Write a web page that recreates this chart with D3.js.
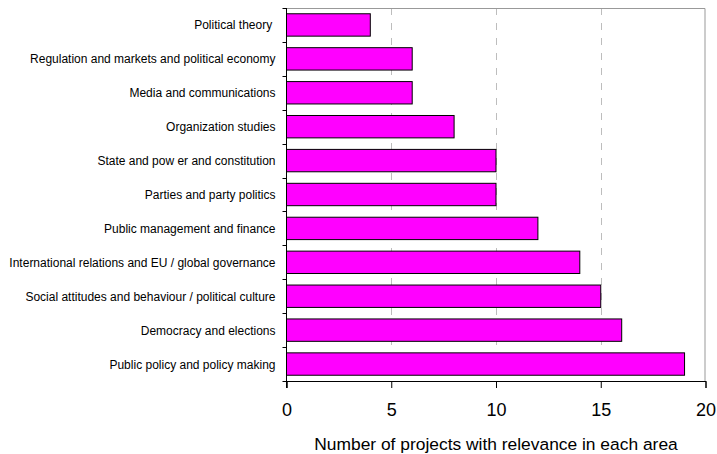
<!DOCTYPE html>
<html>
<head>
<meta charset="utf-8">
<script src="https://cdn.jsdelivr.net/npm/d3@7/dist/d3.min.js"></script>
<style>
  html, body { margin: 0; padding: 0; background: #fff; }
  svg { display: block; }
  text { font-family: "Liberation Sans", Arial, sans-serif; fill: #000; }
</style>
</head>
<body>
<svg id="chart" width="717" height="454"></svg>
<script>
// Research areas, top to bottom, and project counts per area
const categories = [
  "Political theory ",
  "Regulation and markets and political economy",
  "Media and communications",
  "Organization studies",
  "State and pow er and constitution",
  "Parties and party politics",
  "Public management and finance",
  "International relations and EU / global governance",
  "Social attitudes and behaviour / political culture",
  "Democracy and elections",
  "Public policy and policy making"
];
const projectCounts = [4, 6, 6, 8, 10, 10, 12, 14, 15, 16, 19];
const xTicks = [0, 5, 10, 15, 20];
const xTitle = "Number of projects with relevance in each area";

const svg = d3.select("#chart");
const plot = { left: 286.5, right: 705.5, top: 8, bottom: 381 };

const x = d3.scaleLinear().domain([0, 20]).range([plot.left, plot.right]);
const y = d3.scaleBand().domain(categories).range([plot.top, plot.bottom])
  .paddingInner(0.34).paddingOuter(0.17);

// dashed vertical gridlines
svg.append("g")
  .selectAll("line")
  .data(xTicks.filter(t => t > 0 && t < 20))
  .join("line")
  .attr("x1", d => Math.round(x(d)) + 0.5)
  .attr("x2", d => Math.round(x(d)) + 0.5)
  .attr("y1", plot.top)
  .attr("y2", plot.bottom)
  .attr("stroke", "#bdbdbd")
  .attr("stroke-width", 1)
  .attr("stroke-dasharray", "7,8");

// plot frame: top and right edges
svg.append("path")
  .attr("d", `M${plot.left},${plot.top + 0.5}H${plot.right - 0.5}V${plot.bottom}`)
  .attr("fill", "none")
  .attr("stroke", "#999")
  .attr("stroke-width", 1);

// bars
svg.append("g")
  .selectAll("rect")
  .data(categories.map((c, i) => ({ c, v: projectCounts[i] })))
  .join("rect")
  .attr("x", x(0))
  .attr("y", d => y(d.c))
  .attr("width", d => x(d.v) - x(0))
  .attr("height", y.bandwidth())
  .attr("fill", "#ff00ff")
  .attr("stroke", "#000")
  .attr("stroke-width", 1);

// x axis
const xAxis = svg.append("g")
  .attr("transform", `translate(0,${plot.bottom})`)
  .call(d3.axisBottom(x).tickValues(xTicks).tickSize(7).tickPadding(15).tickFormat(d3.format("d")));
xAxis.select(".domain").attr("stroke", "#000");
xAxis.selectAll(".tick line").attr("stroke", "#000");
xAxis.selectAll("text")
  .style("font-family", '"Liberation Sans", Arial, sans-serif')
  .style("font-size", "18px")
  .attr("fill", "#000");

// y axis: ticks sit on the band boundaries
const boundaries = categories.map(c => y(c) - y.step() * y.paddingInner() / 2);
boundaries.push(plot.bottom);
const yAxis = svg.append("g");
yAxis.append("line")
  .attr("x1", plot.left).attr("x2", plot.left)
  .attr("y1", plot.top).attr("y2", plot.bottom + 7)
  .attr("stroke", "#000");
yAxis.selectAll("line.tk")
  .data(boundaries)
  .join("line")
  .attr("class", "tk")
  .attr("x1", plot.left - 4).attr("x2", plot.left)
  .attr("y1", d => Math.round(d) + 0.5).attr("y2", d => Math.round(d) + 0.5)
  .attr("stroke", "#000");
// category labels: slightly condensed horizontally
yAxis.selectAll("text")
  .data(categories)
  .join("text")
  .attr("transform", d => `translate(275.5,${y(d) + y.bandwidth() / 2}) scale(0.96,1)`)
  .attr("dy", "0.36em")
  .attr("text-anchor", "end")
  .style("font-size", "12.5px")
  .style("white-space", "pre")
  .attr("xml:space", "preserve")
  .text(d => d);

// axis title
svg.append("text")
  .attr("x", (plot.left + plot.right) / 2)
  .attr("y", 449.5)
  .attr("text-anchor", "middle")
  .style("font-size", "17.4px")
  .text(xTitle);
</script>
</body>
</html>
